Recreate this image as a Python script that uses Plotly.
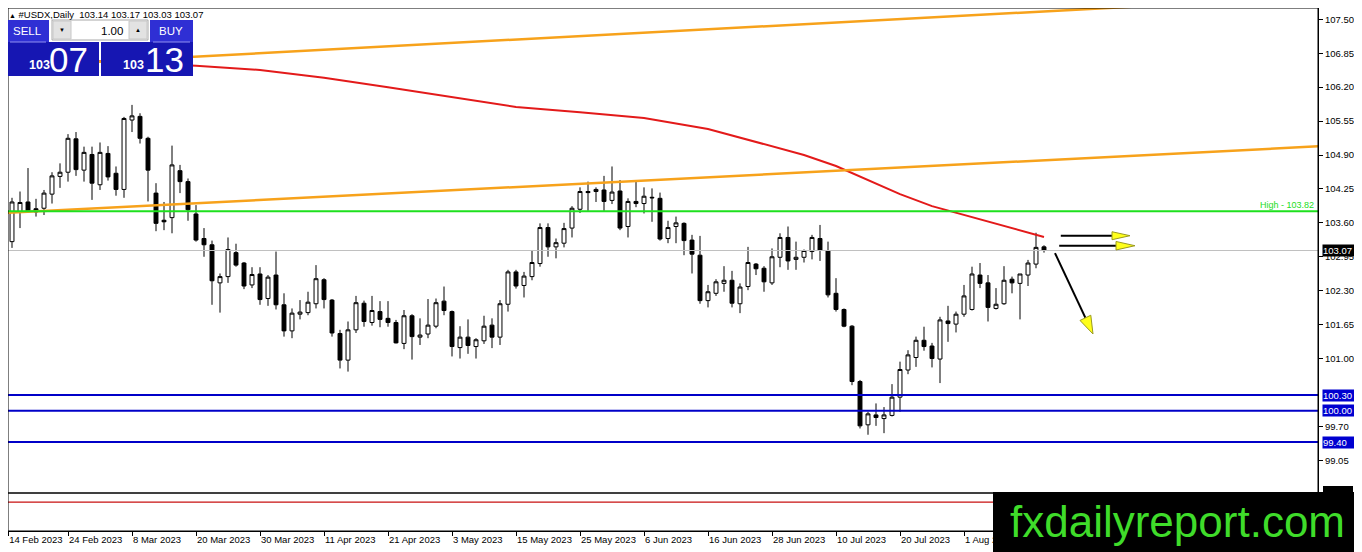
import plotly.graph_objects as go

# daily #USDX bars, 14 Feb 2023 .. 15 Aug 2023
opens = [103.50, 103.24, 103.80, 104.00, 103.87, 103.88, 104.15, 104.49, 104.57, 105.21,
         104.61, 104.91, 104.33, 104.93, 104.55, 104.24, 105.57, 105.64, 105.22, 104.17,
         103.65, 103.70, 104.60, 104.39, 103.77, 103.30, 103.18, 102.45, 102.57, 103.03,
         102.83, 102.41, 102.62, 102.15, 102.60, 102.03, 101.53, 101.85, 101.88, 102.05,
         102.51, 102.12, 101.48, 100.97, 101.55, 102.06, 101.69, 101.90, 101.77, 101.69,
         101.29, 101.82, 101.41, 101.47, 101.62, 102.10, 101.90, 101.21, 101.41, 101.23,
         101.34, 101.64, 101.41, 102.04, 102.66, 102.40, 102.57, 102.82, 103.51, 103.14,
         103.21, 103.50, 103.86, 104.20, 104.20, 104.23, 104.03, 104.21, 103.53, 104.01,
         103.97, 104.09, 104.07, 103.30, 103.53, 103.59, 103.27, 102.98, 102.11, 102.25,
         102.44, 102.50, 102.05, 102.38, 102.81, 102.73, 102.45, 102.94, 103.32, 102.90,
         102.94, 103.05, 103.30, 103.07, 102.25, 101.94, 101.62, 100.56, 99.73, 99.92,
         99.85, 99.91, 100.26, 100.78, 101.02, 101.35, 101.24, 100.99, 101.72, 101.66,
         101.85, 101.94, 102.60, 102.45, 101.96, 102.05, 102.52, 102.44, 102.60, 102.81,
         103.14]
highs = [103.55, 104.08, 104.20, 104.65, 104.06, 104.23, 104.57, 104.74, 105.30, 105.34,
         105.06, 105.06, 105.14, 105.07, 104.68, 105.63, 105.86, 105.70, 105.25, 104.36,
         104.00, 105.08, 104.71, 104.45, 103.94, 103.50, 103.26, 102.63, 103.32, 103.20,
         102.85, 102.75, 102.75, 102.60, 103.05, 102.25, 101.96, 102.12, 102.28, 102.79,
         102.54, 102.14, 101.55, 101.71, 102.20, 102.11, 102.20, 102.10, 102.10, 101.74,
         101.93, 101.85, 101.77, 102.14, 102.15, 102.38, 101.92, 101.62, 101.75, 101.39,
         101.82, 101.77, 102.12, 102.70, 102.70, 102.66, 103.08, 103.59, 103.59, 103.30,
         103.60, 103.92, 104.28, 104.39, 104.28, 104.50, 104.68, 104.42, 104.07, 104.39,
         104.28, 104.26, 104.18, 103.64, 103.72, 103.61, 103.37, 103.35, 102.41, 102.52,
         102.77, 102.68, 102.44, 103.14, 102.83, 102.77, 103.11, 103.40, 103.53, 103.24,
         103.09, 103.37, 103.56, 103.24, 102.54, 101.96, 101.64, 100.59, 99.98, 100.14,
         100.07, 100.51, 100.94, 101.16, 101.42, 101.61, 101.30, 101.80, 102.01, 101.90,
         102.41, 102.76, 102.83, 102.60, 102.35, 102.77, 102.57, 102.62, 102.89, 103.41,
         103.17]
lows = [102.52, 103.12, 103.50, 103.80, 103.72, 103.75, 103.97, 104.27, 104.39, 104.50,
        104.39, 104.04, 104.23, 104.41, 104.12, 104.08, 105.34, 105.12, 104.01, 103.44,
        103.46, 103.40, 104.17, 103.64, 103.24, 102.95, 102.03, 101.88, 102.45, 102.76,
        102.33, 102.35, 102.03, 102.01, 101.94, 101.42, 101.39, 101.75, 101.83, 101.96,
        101.96, 101.42, 100.81, 100.75, 101.49, 101.61, 101.63, 101.60, 101.61, 101.29,
        101.18, 100.98, 101.26, 101.39, 101.58, 101.83, 101.04, 101.00, 101.09, 101.00,
        101.28, 101.20, 101.26, 101.90, 102.34, 102.17, 102.50, 102.76, 102.95, 102.92,
        103.13, 103.32, 103.79, 103.83, 104.00, 103.83, 103.96, 103.46, 103.32, 103.90,
        103.78, 103.62, 103.26, 103.21, 103.21, 102.98, 102.63, 102.05, 101.98, 102.20,
        102.28, 101.98, 101.87, 102.31, 102.60, 102.28, 102.41, 102.75, 102.70, 102.70,
        102.84, 102.90, 102.87, 102.17, 101.90, 101.60, 100.49, 99.66, 99.54, 99.71,
        99.57, 99.89, 99.98, 100.70, 100.84, 101.15, 100.83, 100.53, 101.32, 101.50,
        101.80, 101.92, 102.35, 101.71, 101.94, 102.03, 102.25, 101.75, 102.39, 102.73,
        103.03]
closes = [102.57, 104.00, 103.99, 103.83, 103.81, 104.17, 104.50, 104.57, 105.22, 104.62,
          104.95, 104.36, 104.95, 104.48, 104.24, 105.60, 105.65, 105.22, 104.61, 103.59,
          103.62, 104.71, 104.39, 103.85, 103.27, 103.18, 102.49, 102.57, 103.09, 102.79,
          102.39, 102.61, 102.13, 102.56, 102.03, 101.53, 101.87, 101.89, 102.08, 102.53,
          102.13, 101.49, 100.97, 101.55, 102.07, 101.71, 101.92, 101.75, 101.69, 101.30,
          101.82, 101.42, 101.45, 101.64, 102.07, 101.92, 101.23, 101.41, 101.25, 101.36,
          101.62, 101.41, 102.05, 102.66, 102.39, 102.58, 102.84, 103.51, 103.14, 103.22,
          103.49, 103.88, 104.20, 104.18, 104.24, 104.01, 104.19, 103.50, 104.01, 103.97,
          104.11, 104.08, 103.29, 103.51, 103.60, 103.26, 103.00, 102.11, 102.28, 102.47,
          102.50, 102.06, 102.37, 102.84, 102.72, 102.47, 102.95, 103.32, 102.87, 102.94,
          103.07, 103.32, 103.07, 102.22, 101.94, 101.62, 100.56, 99.71, 99.94, 99.87,
          99.92, 100.26, 100.79, 101.07, 101.35, 101.23, 101.00, 101.74, 101.67, 101.85,
          102.20, 102.62, 102.44, 101.98, 102.04, 102.50, 102.45, 102.62, 102.83, 103.13,
          103.07]
bars = list(range(len(opens)))

# 200 day moving average (red), read at some bars
ma_bars = [0, 24, 32, 40, 48, 56, 64, 72, 80, 88, 96, 100, 104, 108, 112, 116, 120, 124, 130]
ma_values = [106.78, 106.61, 106.53, 106.38, 106.20, 106.01, 105.82, 105.72, 105.61, 105.40,
             105.07, 104.90, 104.69, 104.42, 104.15, 103.92, 103.75, 103.58, 103.33]

# orange trendlines
upper_trend_bars = [0, 147]
upper_trend_prices = [106.59, 107.79]
lower_trend_bars = [0, 170]
lower_trend_prices = [103.79, 105.11]

high_level = 103.82
bid = 103.07
support_levels = [100.30, 100.00, 99.40]

tick_bars = [0, 8, 16, 24, 32, 40, 48, 56, 64, 72, 80, 88, 96, 104, 112, 120]
tick_dates = ['14 Feb 2023', '24 Feb 2023', '8 Mar 2023', '20 Mar 2023', '30 Mar 2023',
              '11 Apr 2023', '21 Apr 2023', '3 May 2023', '15 May 2023', '25 May 2023',
              '6 Jun 2023', '16 Jun 2023', '28 Jun 2023', '10 Jul 2023', '20 Jul 2023',
              '1 Aug 2023']
price_ticks = [107.50, 106.85, 106.20, 105.55, 104.90, 104.25, 103.60, 102.95,
               102.30, 101.65, 101.00, 99.70, 99.05]

FONT = 'Liberation Sans'
PAGE_W, PAGE_H = 1362, 552
OFF = 8                          # the page body keeps an 8px margin around the figure
PL, PR, PT, PB = 8, 1318, 8, 531  # plot area, in page pixels
SPLIT = 493                      # main window / sub window separator


def px(x):
    return (x - PL) / (PR - PL)


def py(y):
    return (PB - y) / (PB - PT)


def price_at(y):
    return 107.87 - y * 0.019161


def bar_at(x):
    return (x - 4) / 8


x_first = bar_at(PL)
# the first date sits on a bar that is half cut by the left border; keep its label visible
x_tickvals = [max(b, x_first + 0.02) for b in tick_bars]

fig = go.Figure()

fig.add_trace(go.Candlestick(
    x=bars, open=opens, high=highs, low=lows, close=closes,
    increasing=dict(line=dict(color='black', width=1), fillcolor='white'),
    decreasing=dict(line=dict(color='black', width=1), fillcolor='black'),
    whiskerwidth=0, showlegend=False, name='#USDX'))

fig.add_trace(go.Scatter(x=ma_bars, y=ma_values, mode='lines', showlegend=False,
                         line=dict(color='#E31A1A', width=2), hoverinfo='skip'))
fig.add_trace(go.Scatter(x=upper_trend_bars, y=upper_trend_prices, mode='lines', showlegend=False,
                         line=dict(color='#F7A21B', width=2.5), hoverinfo='skip'))
fig.add_trace(go.Scatter(x=lower_trend_bars, y=lower_trend_prices, mode='lines', showlegend=False,
                         line=dict(color='#F7A21B', width=2.5), hoverinfo='skip'))

shapes = []


def hline(y, color, width):
    shapes.append(dict(type='line', xref='paper', yref='y', x0=0, x1=1, y0=y, y1=y,
                       line=dict(color=color, width=width), layer='above'))


def prect(x0, y0, x1, y1, fill, line=None):
    shapes.append(dict(type='rect', xref='paper', yref='paper',
                       x0=px(x0), x1=px(x1), y0=py(y1), y1=py(y0), fillcolor=fill,
                       line=dict(color=line or fill, width=1 if line else 0), layer='above'))


def pline(x0, y0, x1, y1, color, width=1):
    shapes.append(dict(type='line', xref='paper', yref='paper',
                       x0=px(x0), x1=px(x1), y0=py(y0), y1=py(y1),
                       line=dict(color=color, width=width), layer='above'))


hline(bid, '#C0C0C0', 1)
hline(high_level, '#1EE01E', 2)
for lvl in support_levels:
    hline(lvl, '#0000C8', 2)

# sub window indicator line
shapes.append(dict(type='line', xref='paper', yref='y2', x0=0, x1=1, y0=0.76, y1=0.76,
                   line=dict(color='#C81010', width=1.2), layer='above'))

# arrows drawn on the chart
shapes.append(dict(type='line', xref='x', yref='y', x0=132.1, x1=138.6, y0=103.354, y1=103.354,
                   line=dict(color='black', width=2), layer='above'))
shapes.append(dict(type='line', xref='x', yref='y', x0=131.9, x1=139.1, y0=103.162, y1=103.162,
                   line=dict(color='black', width=2), layer='above'))
shapes.append(dict(type='line', xref='x', yref='y', x0=131.375, x1=135.18, y0=103.02, y1=101.78,
                   line=dict(color='black', width=2), layer='above'))
for path in ['M 138.5,103.43 L 140.75,103.354 L 138.5,103.277 Z',
             'M 139.0,103.243 L 141.375,103.162 L 139.0,103.08 Z',
             'M 135.85,101.83 L 136.125,101.47 L 134.5,101.73 Z']:
    shapes.append(dict(type='path', xref='x', yref='y', path=path, fillcolor='#FFFF1A',
                       line=dict(color='#9A9A20', width=1), layer='above'))

# window borders
prect(PL, PT, PR, SPLIT, 'rgba(0,0,0,0)', 'black')
prect(PL, SPLIT, PR, PB, 'rgba(0,0,0,0)', 'black')

# one click trading panel
prect(8, 20, 49, 42, '#2F2FD4')
prect(8, 42, 99, 76, '#1616B2')
prect(150, 20, 193, 42, '#2F2FD4')
prect(101, 42, 193, 76, '#1616B2')
pline(10, 42, 46, 42, '#9090F0')
pline(153, 42, 190, 42, '#9090F0')
prect(52, 20, 148, 40, 'white', '#A8A8A8')
prect(53, 21, 71, 39, '#E2E2E2', '#C8C8C8')
prect(129, 21, 147, 39, '#E2E2E2', '#C8C8C8')

# bottom indicator label peeking above the watermark
prect(1323, 486, 1353, 493, 'black')
# watermark
prect(993, 492, 1362, 552, 'black')

annotations = []


def ptext(x, y, text, size, color='black', xanchor='center', yanchor='middle', **kw):
    annotations.append(dict(xref='paper', yref='paper', x=px(x), y=py(y), text=text,
                            showarrow=False, xanchor=xanchor, yanchor=yanchor,
                            font=dict(family=FONT, size=size, color=color), **kw))


ptext(8, 8, '<span style="font-size:7px">▲</span> #USDX,Daily  103.14 103.17 103.03 103.07',
      9.5, xanchor='left', yanchor='top', borderpad=0)
ptext(27, 31, 'SELL', 11.5, 'white')
ptext(171, 31, 'BUY', 11.5, 'white')
ptext(125, 31, '1.00', 11.5, xanchor='right')
ptext(62, 30, '▼', 6)
ptext(138, 30, '▲', 6)
ptext(39, 65, '<b>103</b>', 12.5, 'white')
ptext(68, 59, '07', 35, 'white')
ptext(133, 65, '<b>103</b>', 12.5, 'white')
ptext(164, 59, '13', 35, 'white')
ptext(1316, 205, 'High - 103.82', 9, '#22DD22', xanchor='right')
ptext(1177, 521, 'fxdailyreport.com', 44, '#3FDC2A')

# price labels on the right scale
for lvl, bg in [(bid, 'black')] + [(v, '#0000D0') for v in support_levels]:
    annotations.append(dict(xref='paper', yref='y', x=px(1322), y=lvl, text='%.2f' % lvl,
                            showarrow=False, xanchor='left', yanchor='middle', bgcolor=bg,
                            borderpad=0, height=11, width=35 if lvl >= 100 else 31, align='left',
                            font=dict(family=FONT, size=9.5, color='white')))

fig.update_layout(
    width=PAGE_W - OFF, height=PAGE_H - OFF,
    margin=dict(l=PL - OFF, r=PAGE_W - PR, t=PT - OFF, b=PAGE_H - PB),
    paper_bgcolor='white', plot_bgcolor='white',
    shapes=shapes, annotations=annotations,
    font=dict(family=FONT, size=9.5, color='black'),
    showlegend=False,
    xaxis=dict(range=[x_first, bar_at(PR)], anchor='y2', tickvals=x_tickvals, ticktext=tick_dates,
               ticks='outside', ticklen=4, tickcolor='black', ticklabelposition='outside right',
               tickangle=0, automargin=False,
               showline=True, linecolor='black', showgrid=False, zeroline=False,
               rangeslider=dict(visible=False), tickfont=dict(family=FONT, size=9.5)),
    yaxis=dict(domain=[py(SPLIT), 1], range=[price_at(SPLIT), price_at(PT)], side='right', anchor='x',
               tickvals=price_ticks, ticktext=['%.2f' % v for v in price_ticks], automargin=False,
               ticks='outside', ticklen=4, tickcolor='black', showline=True, linecolor='black',
               showgrid=False, zeroline=False, tickfont=dict(family=FONT, size=9.5)),
    yaxis2=dict(domain=[0, py(SPLIT)], range=[0, 1], side='right', anchor='x',
                showticklabels=False, ticks='', showline=True, linecolor='black',
                showgrid=False, zeroline=False),
)

fig.write_html("out.html")
